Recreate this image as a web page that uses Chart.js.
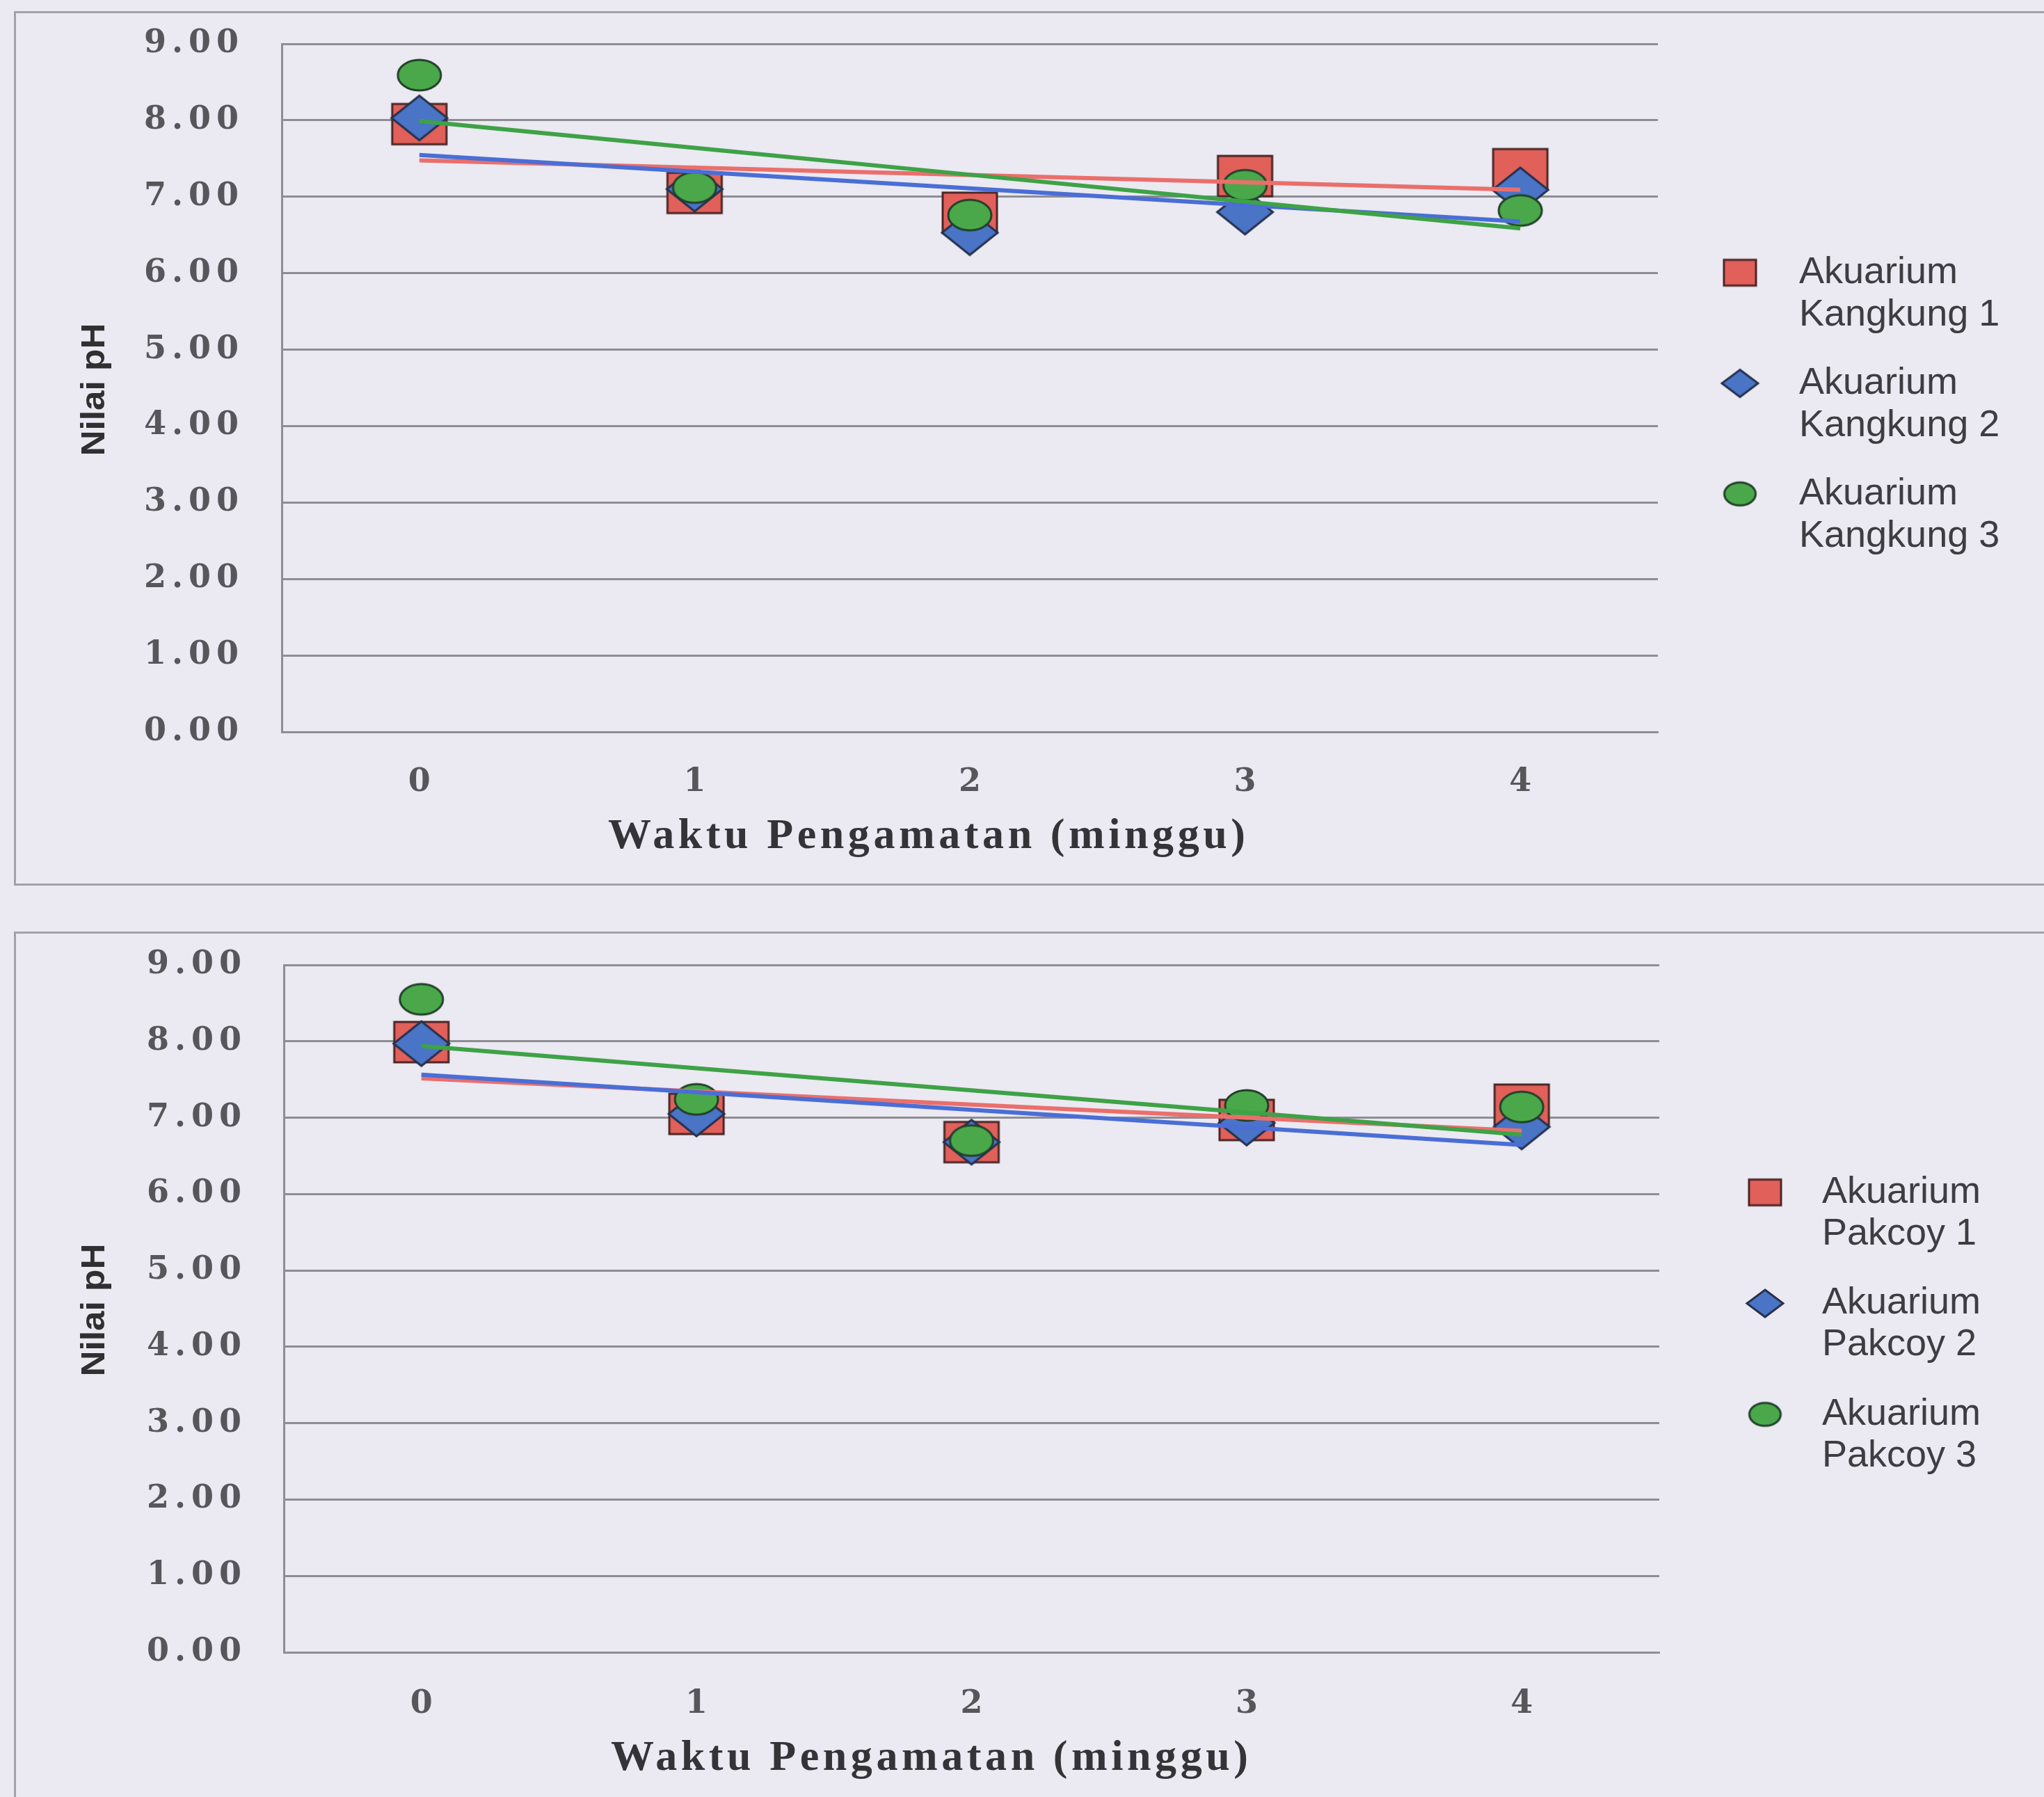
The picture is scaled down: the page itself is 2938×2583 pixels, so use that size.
<!DOCTYPE html>
<html>
<head>
<meta charset="utf-8">
<title>Nilai pH Akuarium</title>
<script src="https://cdn.jsdelivr.net/npm/chart.js@4.4.1/dist/chart.umd.min.js"></script>
<style>
  html, body { margin: 0; padding: 0; background: #ebe9f1; }
  #page { position: relative; width: 2938px; height: 2583px; overflow: hidden; background: #ebe9f1; }
  .frame { position: absolute; border: 3px solid #a2a1a9; box-sizing: border-box; }
  canvas { position: absolute; left: 0; }
</style>
</head>
<body>
<div id="page">
  <div class="frame" style="left:20px; top:16px; width:3000px; height:1257px;"></div>
  <div class="frame" style="left:20px; top:1339px; width:3000px; height:1400px;"></div>
  <canvas id="chartKangkung" width="2938" height="1300" style="top:0; width:2938px; height:1300px;"></canvas>
  <canvas id="chartPakcoy" width="2938" height="1263" style="top:1320px; width:2938px; height:1263px;"></canvas>
</div>

<script>
// ---- data ----
const weeks = ['0', '1', '2', '3', '4'];
const phTicks = [0, 1, 2, 3, 4, 5, 6, 7, 8, 9];
const xTitle = 'Waktu Pengamatan (minggu)';
const yTitle = 'Nilai pH';

const kangkungLabels = ['Akuarium Kangkung 1', 'Akuarium Kangkung 2', 'Akuarium Kangkung 3'];
const kangkung1 = [7.95, 7.05, 6.79, 7.27, 7.36];
const kangkung2 = [8.03, 7.10, 6.53, 6.80, 7.09];
const kangkung3 = [8.59, 7.12, 6.76, 7.15, 6.82];

const pakcoyLabels = ['Akuarium Pakcoy 1', 'Akuarium Pakcoy 2', 'Akuarium Pakcoy 3'];
const pakcoy1 = [7.99, 7.05, 6.68, 6.97, 7.17];
const pakcoy2 = [7.97, 7.05, 6.68, 6.93, 6.88];
const pakcoy3 = [8.55, 7.24, 6.70, 7.16, 7.14];

// ---- styling ----
const GRID = '#8e8d94';
const TICK_COLOR = '#56565b';
const TICK_LS = 8;
const tickFont = { family: '"DejaVu Serif", "Liberation Serif", serif', size: 46, weight: 'bold' };

const seriesStyle = [
  { fill: '#e2605a', stroke: '#4a2626', line: '#ea6f6c', shape: 'rect' },
  { fill: '#4a74c6', stroke: '#26324e', line: '#4a6ed6', shape: 'diamond' },
  { fill: '#4aa84a', stroke: '#22402a', line: '#3ea246', shape: 'ellipse' }
];

// marker bitmaps (wide shapes)
function makeMarker(shape, w, h, fill, stroke, lw) {
  const c = document.createElement('canvas');
  c.width = Math.ceil(w + lw * 2);
  c.height = Math.ceil(h + lw * 2);
  const g = c.getContext('2d');
  const cx = c.width / 2, cy = c.height / 2;
  g.beginPath();
  if (shape === 'rect') {
    g.rect(cx - w / 2, cy - h / 2, w, h);
  } else if (shape === 'diamond') {
    g.moveTo(cx, cy - h / 2);
    g.lineTo(cx + w / 2, cy);
    g.lineTo(cx, cy + h / 2);
    g.lineTo(cx - w / 2, cy);
    g.closePath();
  } else {
    g.ellipse(cx, cy, w / 2, h / 2, 0, 0, Math.PI * 2);
  }
  g.fillStyle = fill;
  g.fill();
  g.lineWidth = lw;
  g.strokeStyle = stroke;
  g.lineJoin = 'miter';
  g.stroke();
  return c;
}

const pointSizes = { rect: [78, 58], diamond: [80, 64], ellipse: [62, 44] };
const legendSizes = { rect: [46, 37], diamond: [52, 39], ellipse: [45, 33] };

// least-squares straight line over the week index
function linearFit(ys) {
  const n = ys.length;
  let sx = 0, sy = 0, sxx = 0, sxy = 0;
  ys.forEach((y, x) => { sx += x; sy += y; sxx += x * x; sxy += x * y; });
  const b = (n * sxy - sx * sy) / (n * sxx - sx * sx);
  const a = (sy - b * sx) / n;
  return ys.map((_, x) => a + b * x);
}

function buildChart(id, labels, values, spec) {
  const ctx = document.getElementById(id).getContext('2d');
  const datasets = [];
  const legendMarks = [];

  values.forEach((vals, i) => {
    const st = seriesStyle[i];
    const ps = pointSizes[st.shape];
    const ls = legendSizes[st.shape];
    legendMarks.push(makeMarker(st.shape, ls[0], ls[1], st.fill, st.stroke, 3));
    datasets.push({
      label: labels[i],
      data: vals,
      showLine: false,
      pointStyle: makeMarker(st.shape, ps[0], ps[1], st.fill, st.stroke, 3),
      pointRadius: 30,
      pointHoverRadius: 30,
      borderColor: st.stroke,
      backgroundColor: st.fill,
      order: 10 - i
    });
  });
  values.forEach((vals, i) => {
    const st = seriesStyle[i];
    datasets.push({
      label: 'Linear (' + labels[i] + ')',
      data: linearFit(vals),
      borderColor: st.line,
      borderWidth: 6,
      pointRadius: 0,
      tension: 0,
      fill: false,
      order: 4 - i
    });
  });

  const decor = {
    id: 'decor',
    beforeDraw(chart) { chart.ctx.letterSpacing = TICK_LS + 'px'; },
    beforeDatasetsDraw(chart) { chart.ctx.letterSpacing = '0px'; },
    afterDraw(chart) {
      const c = chart.ctx;
      c.save();
      c.letterSpacing = '0px';

      // x axis title, spread to its printed width
      c.font = 'bold 62px "Liberation Serif", serif';
      c.fillStyle = '#343438';
      c.textBaseline = 'middle';
      c.textAlign = 'left';
      const natural = c.measureText(xTitle).width;
      const gap = (spec.xTitleWidth - natural) / (xTitle.length - 1);
      c.letterSpacing = gap + 'px';
      c.fillText(xTitle, spec.xTitleX - spec.xTitleWidth / 2, spec.xTitleY);
      c.letterSpacing = '0px';

      // y axis title, rotated
      c.save();
      c.translate(spec.yTitleX, spec.yTitleY);
      c.rotate(-Math.PI / 2);
      c.font = 'bold 48px "Liberation Sans", sans-serif';
      const yw = c.measureText(yTitle).width;
      c.scale(spec.yTitleLen / yw, 1);
      c.textAlign = 'center';
      c.textBaseline = 'middle';
      c.fillStyle = '#303033';
      c.fillText(yTitle, 0, 0);
      c.restore();

      // legend
      c.font = '54px "Liberation Sans", Arial, sans-serif';
      c.fillStyle = '#3d3d42';
      c.textAlign = 'left';
      c.textBaseline = 'middle';
      labels.forEach((lab, i) => {
        const y = spec.legendY + i * spec.legendStep;
        const m = legendMarks[i];
        c.drawImage(m, spec.legendMarkX - m.width / 2, y - m.height / 2);
        const cut = lab.indexOf(' ');
        c.fillText(lab.slice(0, cut), spec.legendTextX, y);
        c.fillText(lab.slice(cut + 1), spec.legendTextX, y + spec.legendLine);
      });
      c.restore();
    }
  };

  return new Chart(ctx, {
    type: 'line',
    data: { labels: weeks, datasets },
    plugins: [decor],
    options: {
      responsive: false,
      animation: false,
      devicePixelRatio: 1,
      events: [],
      layout: { autoPadding: false, padding: { left: 0, top: spec.top, right: spec.right, bottom: 0 } },
      plugins: { legend: { display: false }, tooltip: { enabled: false } },
      scales: {
        x: {
          type: 'category',
          offset: true,
          grid: { display: false, drawTicks: false },
          border: { display: true, color: GRID, width: 3 },
          ticks: {
            font: tickFont, color: TICK_COLOR, padding: spec.xPad,
            labelOffset: TICK_LS / 2, maxRotation: 0, autoSkip: false
          },
          afterFit(s) { s.height = spec.xHeight; }
        },
        y: {
          min: 0, max: 9,
          // invisible tick marks keep the labels clear of the axis line
          grid: { color: GRID, lineWidth: 3, drawTicks: true, tickLength: spec.yGap, tickColor: 'rgba(0,0,0,0)' },
          border: { display: true, color: GRID, width: 3 },
          afterBuildTicks(s) { s.ticks = phTicks.map(v => ({ value: v })); },
          ticks: {
            font: tickFont, color: TICK_COLOR, padding: 0,
            callback: v => Number(v).toFixed(2)
          },
          afterFit(s) { s.width = spec.yWidth; }
        }
      }
    }
  });
}

buildChart('chartKangkung', kangkungLabels, [kangkung1, kangkung2, kangkung3], {
  top: 63, right: 555, yWidth: 405, xHeight: 248, yGap: 54, xPad: 45,
  xTitleX: 1332, xTitleY: 1203, xTitleWidth: 916,
  yTitleX: 137, yTitleY: 560, yTitleLen: 191,
  legendMarkX: 2501, legendTextX: 2586, legendY: 392, legendStep: 159, legendLine: 61
});

buildChart('chartPakcoy', pakcoyLabels, [pakcoy1, pakcoy2, pakcoy3], {
  top: 67, right: 553, yWidth: 408, xHeight: 208, yGap: 53, xPad: 47,
  xTitleX: 1336, xTitleY: 1208, xTitleWidth: 916,
  yTitleX: 137, yTitleY: 563, yTitleLen: 191,
  legendMarkX: 2537, legendTextX: 2619, legendY: 394, legendStep: 159.5, legendLine: 60
});
</script>
</body>
</html>
